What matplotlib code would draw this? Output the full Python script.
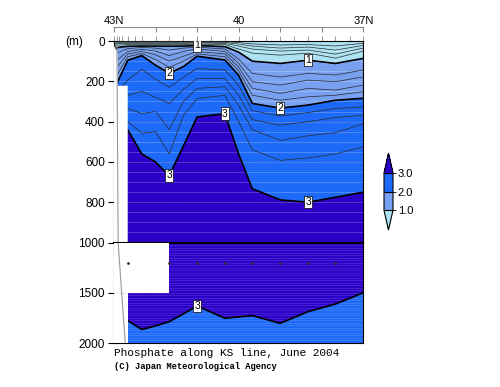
#!/usr/bin/env python

# Phosphate section along the KS line (43N-37N), June 2004.
# Broken depth axis: 0-1000 m on top, 1000-2000 m at half scale below.

import numpy as np
import matplotlib
matplotlib.use('Agg')
import matplotlib.pyplot as plt
from matplotlib.patches import Polygon, Rectangle

# Station latitudes (deg N)
lat = [43.0, 42.93, 42.67, 42.33, 42.0, 41.67, 41.33, 41.0,
       40.33, 40.0, 39.67, 39.0, 38.33, 37.67, 37.0]

# Depth (m) of each isoline at every station
d02 = [8, 4, 3, 3, 3, 3, 3, 3, 3, 8, 15, 20, 18, 25, 12]
d04 = [18, 8, 7, 7, 7, 7, 7, 6, 7, 15, 25, 35, 30, 45, 22]
d06 = [30, 13, 12, 12, 12, 12, 12, 10, 12, 25, 40, 50, 45, 65, 35]
d08 = [45, 20, 18, 18, 18, 18, 18, 15, 18, 40, 60, 70, 60, 85, 50]
d10 = [60, 32, 26, 25, 25, 25, 25, 22, 28, 55, 100, 111, 95, 111, 86]
d12 = [90, 60, 38, 32, 35, 45, 35, 30, 40, 90, 161, 179, 161, 169, 144]
d14 = [120, 95, 52, 42, 50, 72, 52, 40, 52, 110, 202, 219, 194, 202, 178]
d16 = [150, 130, 64, 52, 68, 100, 76, 52, 64, 130, 235, 260, 235, 244, 219]
d18 = [190, 170, 78, 62, 92, 130, 100, 64, 78, 148, 269, 294, 277, 269, 252]
d20 = [235, 210, 95, 72, 120, 160, 127, 75, 94, 170, 310, 333, 318, 294, 284]
d22 = [260, 250, 194, 140, 190, 230, 180, 136, 144, 220, 345, 373, 355, 335, 327]
d24 = [300, 290, 270, 250, 280, 310, 240, 186, 186, 270, 390, 418, 400, 380, 368]
d26 = [350, 340, 335, 360, 350, 440, 300, 235, 227, 320, 440, 493, 470, 455, 410]
d28 = [400, 390, 400, 458, 450, 560, 370, 285, 269, 400, 540, 592, 580, 560, 525]
d30 = [450, 440, 440, 560, 600, 667, 520, 376, 360, 560, 733, 788, 800, 775, 750]
# deep 3.0 isoline (values fall back below 3 near the bottom)
d30_deep = [1800, 1790, 1778, 1866, 1830, 1788, 1710, 1632,
            1754, 1741, 1728, 1804, 1688, 1612, 1500]

iso_values = [0.2, 0.4, 0.6, 0.8, 1.0, 1.2, 1.4, 1.6, 1.8, 2.0,
              2.2, 2.4, 2.6, 2.8, 3.0]
surface_value = 0.1
core_value, core_depth = 3.1, 1150
bottom_value = 2.9

# station marks along the top of the frame
top_tick_lat = [43.0, 42.93, 42.87, 42.8, 42.67, 42.5, 42.33, 42.0, 41.67,
                41.33, 41.0, 40.67, 40.33, 40.0, 39.67, 39.33, 39.0, 38.67,
                38.33, 38.0, 37.67, 37.33, 37.0]
deep_sample_lat = [42.67, 41.67, 41.0, 40.33, 39.67, 39.0, 38.33, 37.67]

fill_colors = ['#ade3f3', '#78a0f0', '#1c6af7', '#2b00c8']

# grid the section: isoline depths run straight between stations
iso = [d02, d04, d06, d08, d10, d12, d14, d16, d18, d20, d22, d24, d26, d28, d30]
lat_g = np.linspace(37.0, 43.0, 601)
z = np.arange(0, 2001, 2)
lat_r = lat[::-1]
iso_g = [np.interp(lat_g, lat_r, d[::-1]) for d in iso]
deep_g = np.interp(lat_g, lat_r, d30_deep[::-1])
field = np.zeros((len(z), len(lat_g)))
for i in range(len(lat_g)):
    zp = [0] + [d[i] for d in iso_g] + [core_depth, deep_g[i], 2000]
    vp = [surface_value] + iso_values + [core_value, 3.0, bottom_value]
    field[:, i] = np.interp(z, zp, vp)

fig = plt.figure(figsize=(5.0, 3.87), dpi=100, facecolor='white')
W, H = 500., 387.
x0, x1 = 114 / W, 363.3 / W
ax_top = fig.add_axes([x0, 1 - 242.5 / H, x1 - x0, 201.5 / H])
ax_bot = fig.add_axes([x0, 1 - 343 / H, x1 - x0, 100.5 / H])

thin_levels = [0.2, 0.4, 0.6, 0.8, 1.2, 1.4, 1.6, 1.8, 2.2, 2.4, 2.6, 2.8]
thick_levels = [1.0, 2.0, 3.0]

cs_thick = {}
for ax, (zlo, zhi) in ((ax_top, (0, 1000)), (ax_bot, (1000, 2000))):
    cf = ax.contourf(lat_g, z, field, levels=[1, 2, 3], colors=fill_colors,
                     extend='both', zorder=1)
    ax.contour(lat_g, z, field, levels=thin_levels, colors='#2a2a2a',
               linewidths=0.5, zorder=3)
    cs_thick[ax] = ax.contour(lat_g, z, field, levels=thick_levels,
                              colors='black', linewidths=1.2, zorder=3)
    step, alpha = (50, 0.25) if zlo == 0 else (25, 0.15)
    for zz in range(zlo + step, zhi, step):
        ax.axhline(zz, color='white', lw=0.6, alpha=alpha, zorder=2)
    ax.set_xlim(43, 37)
    ax.set_ylim(zhi, zlo)
    ax.tick_params(axis='y', direction='out', length=4, width=0.8, pad=2.5)

ax_top.set_yticks([0, 200, 400, 600, 800])
ax_bot.set_yticks([1000, 1500, 2000])
for ax in (ax_top, ax_bot):
    for lab in ax.get_yticklabels():
        lab.set_family('Liberation Sans')
        lab.set_fontsize(8.5)
ax_top.spines['bottom'].set_linewidth(1.5)
ax_bot.spines['top'].set_linewidth(1.5)

# station ticks on the top frame, none on the bottom
ax_top.set_xticks(top_tick_lat)
ax_top.tick_params(axis='x', which='both', top=True, bottom=False,
                   labeltop=False, labelbottom=False, direction='out',
                   length=3.5, width=0.6, color='#888888')
ax_bot.set_xticks([])

# latitude scale above the frame
sec = ax_top.secondary_xaxis(1.067)
sec.set_xticks([43, 42, 41, 40, 39, 38, 37])
sec.set_xticklabels(['43N', '', '', '40', '', '', '37N'])
sec.tick_params(direction='in', length=3.5, width=0.8, color='#888888',
                labelsize=8, pad=1)
for sp in sec.spines.values():
    sp.set_color('#888888')
for lab in sec.get_xticklabels():
    lab.set_family('Liberation Sans')

# dotted depth grid and deep sample marks
for zz in (400, 600, 800):
    ax_top.axhline(zz, color='#333333', ls=(0, (1, 3)), lw=0.5, alpha=0.6, zorder=2)
ax_bot.axhline(1500, color='#333333', ls=(0, (1, 3)), lw=0.5, alpha=0.6, zorder=5)
ax_bot.plot(deep_sample_lat, [1200] * len(deep_sample_lat), ls='none',
            marker='o', ms=1.0, color='#333333', zorder=5)

# no data: shelf / below the sampled depth
ax_top.add_patch(Polygon([(43.0, 25), (42.91, 60), (42.91, 222), (42.67, 222),
                          (42.67, 1000), (43.0, 1000)], closed=True,
                         fc='white', ec='none', zorder=4))
ax_bot.add_patch(Rectangle((41.67, 1000), 43.0 - 41.67, 500,
                           fc='white', ec='none', zorder=4))
ax_bot.add_patch(Rectangle((42.67, 1500), 43.0 - 42.67, 500,
                           fc='white', ec='none', zorder=4))
ax_top.plot([42.93, 42.90], [20, 1000], color='#999999', lw=0.8, zorder=5)
ax_bot.plot([42.90, 42.73], [1000, 2000], color='#999999', lw=0.8, zorder=5)

# contour labels
box = dict(boxstyle='square,pad=0.12', fc='white', ec='black', lw=0.5)
top_labels = [(41.0, 15), (38.33, 93), (41.67, 160), (39.0, 333),
              (40.33, 360), (41.67, 667), (38.33, 800)]
bot_labels = [(41.0, 1632)]
for ax, pos in ((ax_top, top_labels), (ax_bot, bot_labels)):
    texts = ax.clabel(cs_thick[ax], manual=pos, inline=False,
                      fmt='%d', fontsize=7.5)
    for t in texts:
        t.set_rotation(0)
        t.set_bbox(box)
        t.set_zorder(6)
        t.set_family('Liberation Sans')

# colour key (axes covers the triangles too; interior is 1.0-3.0)
cax = fig.add_axes([384 / W, 1 - 230 / H, 9 / W, 77 / H])
cb = fig.colorbar(cf, cax=cax, ticks=[1, 2, 3], extendfrac=0.53, drawedges=True)
cb.ax.set_yticklabels(['1.0', '2.0', '3.0'])
cb.ax.tick_params(labelsize=8, length=2.5, width=0.6, pad=1)
for lab in cb.ax.get_yticklabels():
    lab.set_family('Liberation Sans')
cb.outline.set_linewidth(0.8)
cb.dividers.set_linewidth(0.8)

fig.text(74 / W, 1 - 42 / H, '(m)', fontsize=8.5, family='Liberation Sans',
         ha='center', va='center')
fig.text(x0, 1 - 353 / H, 'Phosphate along KS line, June 2004',
         family='Liberation Mono', fontsize=8, ha='left', va='center')
fig.text(x0, 1 - 366.5 / H, '(C) Japan Meteorological Agency',
         family='Liberation Mono', fontweight='bold', fontsize=6.3,
         ha='left', va='center')

fig.savefig('out.png', dpi=100)
